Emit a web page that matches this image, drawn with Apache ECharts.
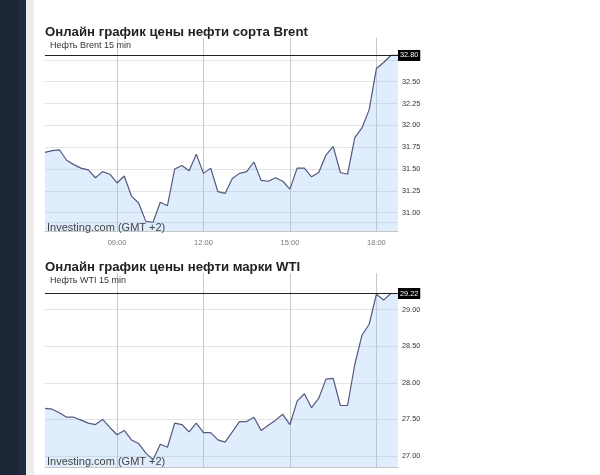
<!DOCTYPE html>
<html>
<head>
<meta charset="utf-8">
<script src="https://cdn.jsdelivr.net/npm/echarts@6/dist/echarts.min.js"></script>
<style>
html,body{margin:0;padding:0;background:#fff;}
#c{width:600px;height:475px;}
</style>
</head>
<body>
<div id="c"></div>
<script>
// ---- data ----
var times = ["06:30","06:45","07:00","07:15","07:30","07:45","08:00","08:15","08:30","08:45",
  "09:00","09:15","09:30","09:45","10:00","10:15","10:30","10:45","11:00","11:15",
  "11:30","11:45","12:00","12:15","12:30","12:45","13:00","13:15","13:30","13:45",
  "14:00","14:15","14:30","14:45","15:00","15:15","15:30","15:45","16:00","16:15",
  "16:30","16:45","17:00","17:15","17:30","17:45","18:00","18:15","18:30","18:45"];
var xTickLabels = ["09:00","12:00","15:00","18:00"];

var brent = [31.69,31.71,31.72,31.60,31.55,31.51,31.49,31.40,31.47,31.44,
  31.34,31.42,31.19,31.11,30.90,30.89,31.12,31.08,31.50,31.54,
  31.48,31.67,31.45,31.51,31.24,31.22,31.39,31.45,31.47,31.58,
  31.37,31.36,31.40,31.36,31.27,31.51,31.51,31.41,31.46,31.66,
  31.76,31.46,31.44,31.86,31.97,32.18,32.65,32.72,32.80,32.80];
var wti = [27.65,27.64,27.59,27.53,27.53,27.49,27.45,27.43,27.50,27.39,
  27.29,27.35,27.22,27.17,27.04,26.95,27.16,27.12,27.45,27.43,
  27.33,27.45,27.32,27.32,27.22,27.19,27.33,27.47,27.47,27.53,
  27.35,27.42,27.49,27.57,27.43,27.75,27.85,27.66,27.79,28.05,
  28.06,27.69,27.69,28.25,28.65,28.80,29.21,29.13,29.22,29.22];

var brentTicks = [31.00,31.25,31.50,31.75,32.00,32.25,32.50];
var brentGrid = [30.895,31.00,31.25,31.50,31.75,32.00,32.25,32.50,32.75];
var wtiTicks = [27.00,27.50,28.00,28.50,29.00];

var titles = ["Онлайн график цены нефти сорта Brent","Онлайн график цены нефти марки WTI"];
var subTitles = ["Нефть Brent 15 min","Нефть WTI 15 min"];
var source = "Investing.com (GMT +2)";

// ---- chart ----
var chart = echarts.init(document.getElementById('c'), null, {renderer:'canvas'});
var FONT = '"Liberation Sans", Arial, sans-serif';
var lineColor = '#55587f';
var fillColor = 'rgba(150,195,250,0.44)';

function isTick(idx, val){ return xTickLabels.indexOf(val) >= 0; }

function xAxisDef(gi, showLabels){
  return {
    type:'category', gridIndex:gi, data:times, boundaryGap:false,
    axisLine:{show:true, lineStyle:{color:'#c8c8c8', width:1}},
    axisTick:{show:false},
    axisLabel:{show:showLabels, interval:isTick, color:'#777', fontSize:7.5, fontFamily:FONT, margin:8},
    splitLine:{show:true, interval:isTick, lineStyle:{color:'#c8c8c8', width:1}}
  };
}
function yAxisDef(gi, min, max, labels, gridVals){
  return {
    type:'value', gridIndex:gi, position:'right', min:min, max:max, scale:true,
    axisLine:{show:false},
    axisTick:{show:false, customValues:gridVals},
    axisLabel:{show:true, customValues:labels, color:'#333', fontSize:7.3, fontFamily:FONT, margin:4,
      formatter:function(v){return v.toFixed(2);}},
    splitLine:{show:true, lineStyle:{color:'#e4e4e4', width:1}}
  };
}
function seriesDef(gi, data){
  var last = data[data.length-1];
  return {
    type:'line', xAxisIndex:gi, yAxisIndex:gi, data:data, symbol:'none', smooth:false,
    lineStyle:{color:lineColor, width:1.2},
    areaStyle:{color:fillColor, origin:'start'},
    silent:true,
    markLine:{
      silent:true, symbol:'none', animation:false,
      lineStyle:{color:'#222', width:1, type:'solid'},
      label:{show:true, position:'end', distance:0, formatter:function(p){return p.value.toFixed(2);},
        backgroundColor:'#000', color:'#fff', fontSize:7.3, fontFamily:FONT, padding:[2,2,2,2]},
      data:[{yAxis:last}]
    }
  };
}

var option = {
  animation:false,
  backgroundColor:'#ffffff',
  grid:[
    {left:45, right:202, top:38, height:193, outerBoundsMode:'none', containLabel:false},
    {left:45, right:202, top:273, height:194, outerBoundsMode:'none', containLabel:false}
  ],
  xAxis:[xAxisDef(0,true), xAxisDef(1,false)],
  yAxis:[yAxisDef(0,30.79,33.0,brentTicks,brentGrid), yAxisDef(1,26.85,29.5,wtiTicks,wtiTicks)],
  series:[seriesDef(0,brent), seriesDef(1,wti)],
  graphic:[
    {type:'rect', z:100, shape:{x:0,y:0,width:18,height:475}, style:{fill:'#1b2536'}},
    {type:'rect', z:100, shape:{x:18,y:0,width:8,height:475}, style:{fill:'#1f2b3e'}},
    {type:'rect', z:100, shape:{x:26,y:0,width:8,height:475}, style:{fill:'#ececec'}},
    {type:'text', z:100, style:{text:titles[0], x:45, y:32, font:'bold 13.2px '+FONT, fill:'#222', verticalAlign:'middle'}},
    {type:'text', z:100, style:{text:subTitles[0], x:50, y:46, font:'9px '+FONT, fill:'#333', verticalAlign:'middle'}},
    {type:'text', z:100, style:{text:source, x:47, y:227.5, font:'11px '+FONT, fill:'#444', verticalAlign:'middle'}},
    {type:'text', z:100, style:{text:titles[1], x:45, y:267, font:'bold 13.2px '+FONT, fill:'#222', verticalAlign:'middle'}},
    {type:'text', z:100, style:{text:subTitles[1], x:50, y:281, font:'9px '+FONT, fill:'#333', verticalAlign:'middle'}},
    {type:'text', z:100, style:{text:source, x:47, y:461.5, font:'11px '+FONT, fill:'#444', verticalAlign:'middle'}}
  ]
};
chart.setOption(option);
</script>
</body>
</html>
